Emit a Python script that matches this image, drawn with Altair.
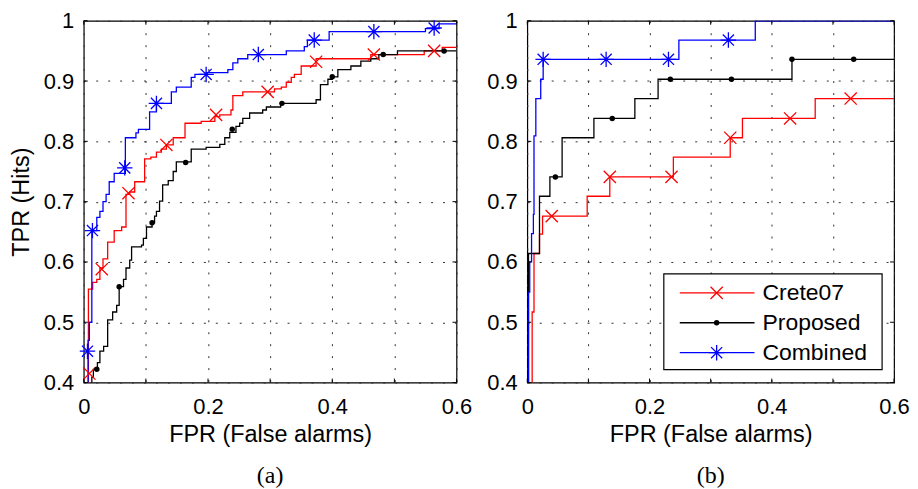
import altair as alt
import pandas as pd

# ---------------- data ----------------
XT = [0.0, 0.1, 0.2, 0.3, 0.4, 0.5, 0.6]
YT = [0.4, 0.5, 0.6, 0.7, 0.8, 0.9, 1.0]
SERIES = ["Crete07", "Proposed", "Combined"]
COLORS = ["#ff0000", "#000000", "#0000ff"]
SUBTITLES = ["(a)", "(b)"]

# panel (a): step ROC corners (x where the curve rises, TPR after the rise)
a_crete_x = [0.0075, 0.0075, 0.0144, 0.021, 0.026, 0.031, 0.0385, 0.049, 0.061, 0.068,
             0.074, 0.082, 0.098, 0.108, 0.117, 0.125, 0.133, 0.144, 0.163, 0.189,
             0.211, 0.219, 0.237, 0.240, 0.256, 0.307, 0.318, 0.326, 0.334, 0.339,
             0.350, 0.374, 0.462, 0.548, 0.577, 0.600]
a_crete_y = [0.30, 0.555, 0.566, 0.571, 0.590, 0.605, 0.633, 0.652, 0.658, 0.712,
             0.716, 0.733, 0.771, 0.774, 0.782, 0.787, 0.794, 0.806, 0.830, 0.833,
             0.841, 0.844, 0.852, 0.876, 0.882, 0.887, 0.890, 0.898, 0.906, 0.911,
             0.925, 0.937, 0.944, 0.950, 0.956, 0.956]
a_prop_x = [0.013, 0.013, 0.0155, 0.022, 0.026, 0.032, 0.0385, 0.0465, 0.053, 0.057,
            0.064, 0.068, 0.074, 0.077, 0.093, 0.096, 0.101, 0.110, 0.114, 0.117,
            0.122, 0.127, 0.136, 0.144, 0.149, 0.173, 0.197, 0.219, 0.227, 0.235,
            0.245, 0.251, 0.256, 0.267, 0.288, 0.294, 0.317, 0.374, 0.381, 0.393,
            0.400, 0.409, 0.430, 0.446, 0.462, 0.475, 0.505, 0.600]
a_prop_y = [0.30, 0.409, 0.422, 0.433, 0.452, 0.460, 0.504, 0.517, 0.528, 0.559,
            0.571, 0.590, 0.603, 0.625, 0.628, 0.639, 0.658, 0.665, 0.676, 0.684,
            0.701, 0.728, 0.735, 0.750, 0.766, 0.787, 0.790, 0.795, 0.806, 0.815,
            0.825, 0.830, 0.838, 0.847, 0.852, 0.857, 0.863, 0.869, 0.894, 0.903,
            0.907, 0.919, 0.925, 0.933, 0.937, 0.944, 0.950, 0.950]
a_comb_x = [0.007, 0.007, 0.009, 0.013, 0.021, 0.026, 0.031, 0.036, 0.041, 0.049,
            0.067, 0.084, 0.088, 0.106, 0.117, 0.141, 0.149, 0.173, 0.179, 0.197,
            0.232, 0.240, 0.248, 0.264, 0.326, 0.355, 0.360, 0.395, 0.550, 0.572,
            0.600]
a_comb_y = [0.30, 0.47, 0.50, 0.652, 0.674, 0.684, 0.700, 0.712, 0.733, 0.747,
            0.806, 0.814, 0.820, 0.849, 0.863, 0.882, 0.890, 0.906, 0.911, 0.914,
            0.919, 0.930, 0.937, 0.944, 0.950, 0.957, 0.968, 0.982, 0.987, 0.995,
            0.995]
# panel (a) markers
a_crete_mx = [0.009, 0.029, 0.072, 0.133, 0.213, 0.296, 0.374, 0.467, 0.564]
a_crete_my = [0.415, 0.588, 0.714, 0.794, 0.844, 0.882, 0.932, 0.944, 0.950]
a_prop_mx = [0.021, 0.057, 0.110, 0.164, 0.239, 0.319, 0.400, 0.482, 0.580]
a_prop_my = [0.422, 0.559, 0.665, 0.765, 0.820, 0.863, 0.907, 0.944, 0.950]
a_comb_mx = [0.006, 0.014, 0.066, 0.117, 0.197, 0.281, 0.371, 0.467, 0.564]
a_comb_my = [0.452, 0.652, 0.756, 0.863, 0.911, 0.944, 0.968, 0.982, 0.988]

# panel (b)
b_crete_x = [0.008, 0.008, 0.011, 0.020, 0.025, 0.098, 0.135, 0.239, 0.332, 0.352, 0.471, 0.600]
b_crete_y = [0.30, 0.517, 0.614, 0.646, 0.676, 0.709, 0.741, 0.774, 0.806, 0.838, 0.871, 0.871]
b_prop_x = [0.002, 0.002, 0.020, 0.037, 0.057, 0.109, 0.176, 0.214, 0.433, 0.600]
b_prop_y = [0.30, 0.614, 0.709, 0.741, 0.806, 0.838, 0.871, 0.903, 0.936, 0.936]
b_comb_x = [0.002, 0.002, 0.004, 0.007, 0.010, 0.011, 0.014, 0.022, 0.026, 0.248, 0.373, 0.600]
b_comb_y = [0.30, 0.55, 0.60, 0.647, 0.679, 0.809, 0.871, 0.903, 0.936, 0.968, 1.0, 1.0]
b_crete_mx = [0.040, 0.135, 0.236, 0.332, 0.430, 0.529]
b_crete_my = [0.676, 0.741, 0.741, 0.806, 0.838, 0.871]
b_prop_mx = [0.046, 0.139, 0.234, 0.334, 0.433, 0.534]
b_prop_my = [0.741, 0.838, 0.903, 0.903, 0.936, 0.936]
b_comb_mx = [0.026, 0.129, 0.231, 0.329]
b_comb_my = [0.936, 0.936, 0.936, 0.968]

# ---------------- styling ----------------
W_A, W_B, H = 374, 368, 363
FONT = "Liberation Sans"
X_SHAPE = "M-1,-1L1,1M-1,1L1,-1"
STAR_SHAPE = "M-1,0L1,0M0,-1L0,1M-0.72,-0.72L0.72,0.72M-0.72,0.72L0.72,-0.72"
LW = 1.3

XS = alt.Scale(domain=[0, 0.6], nice=False, zero=False)
YS = alt.Scale(domain=[0.4, 1.0], nice=False, zero=False)


def x_axis():
    return alt.Axis(values=XT, format=".1~f",
                    labelExpr="round(datum.value*10) % 2 == 0 ? datum.label : ''",
                    title="FPR (False alarms)", labelPadding=14, titlePadding=5,
                    labelFlush=False, labelOverlap=False)


def y_axis(title):
    return alt.Axis(values=YT, format=".1~f", title=title, labelPadding=10,
                    titlePadding=10, labelFlush=False, labelOverlap=False)


def panel(curves, markers, sub, width, ytitle, legend):
    def X(field):
        return alt.X(field, scale=XS, axis=x_axis())

    def Y(field):
        return alt.Y(field, scale=YS, axis=y_axis(ytitle))

    frames = []
    for (xs, ys), name in zip(curves, SERIES):
        frames.append(pd.DataFrame({"x": xs, "y": ys, "s": name, "i": range(len(xs))}))
    lines_df = pd.concat(frames, ignore_index=True)

    lines = alt.Chart(lines_df).mark_line(
        interpolate="step-after", clip=True, strokeWidth=LW
    ).encode(
        x=X("x:Q"),
        y=Y("y:Q"),
        color=alt.Color("s:N", scale=alt.Scale(domain=SERIES, range=COLORS), legend=None),
        detail="s:N",
        order="i:Q",
    )

    layers = [lines]
    (cmx, cmy), (pmx, pmy), (bmx, bmy) = markers
    layers.append(alt.Chart(pd.DataFrame({"x": cmx, "y": cmy})).mark_point(
        shape=X_SHAPE, filled=False, size=150, strokeWidth=LW, color=COLORS[0], opacity=1
    ).encode(x=X("x:Q"), y=Y("y:Q")))
    layers.append(alt.Chart(pd.DataFrame({"x": pmx, "y": pmy})).mark_circle(
        size=30, color=COLORS[1], opacity=1
    ).encode(x=X("x:Q"), y=Y("y:Q")))
    layers.append(alt.Chart(pd.DataFrame({"x": bmx, "y": bmy})).mark_point(
        shape=STAR_SHAPE, filled=False, size=240, strokeWidth=LW, color=COLORS[2], opacity=1
    ).encode(x=X("x:Q"), y=Y("y:Q")))

    # inward tick marks on all four sides
    xt_df = pd.DataFrame({"v": XT})
    yt_df = pd.DataFrame({"v": YT})
    tk = dict(color="black", strokeWidth=1)
    layers.append(alt.Chart(xt_df).mark_rule(**tk).encode(
        x=X("v:Q"), y=alt.value(H), y2=alt.value(H - 4)))
    layers.append(alt.Chart(xt_df).mark_rule(**tk).encode(
        x=X("v:Q"), y=alt.value(0), y2=alt.value(4)))
    layers.append(alt.Chart(yt_df).mark_rule(**tk).encode(
        y=Y("v:Q"), x=alt.value(0), x2=alt.value(4)))
    layers.append(alt.Chart(yt_df).mark_rule(**tk).encode(
        y=Y("v:Q"), x=alt.value(width), x2=alt.value(width - 4)))

    if legend:
        one = pd.DataFrame({"k": [0]})
        layers.append(alt.Chart(one).mark_rect(
            fill="white", stroke="black", strokeWidth=1.2
        ).encode(x=alt.value(137), x2=alt.value(356), y=alt.value(254), y2=alt.value(350)))
        rows_y = [273, 303, 333]
        for i, name in enumerate(SERIES):
            ly = rows_y[i]
            layers.append(alt.Chart(one).mark_rule(color=COLORS[i], strokeWidth=LW).encode(
                x=alt.value(153), x2=alt.value(228), y=alt.value(ly)))
            if i == 0:
                m = alt.Chart(one).mark_point(shape=X_SHAPE, filled=False, size=150,
                                              strokeWidth=LW, color=COLORS[0], opacity=1)
            elif i == 1:
                m = alt.Chart(one).mark_circle(size=30, color=COLORS[1], opacity=1)
            else:
                m = alt.Chart(one).mark_point(shape=STAR_SHAPE, filled=False, size=240,
                                              strokeWidth=LW, color=COLORS[2], opacity=1)
            layers.append(m.encode(x=alt.value(190), y=alt.value(ly)))
            layers.append(alt.Chart(pd.DataFrame({"t": [name]})).mark_text(
                align="left", baseline="middle", font=FONT, fontSize=23, color="black"
            ).encode(x=alt.value(236), y=alt.value(ly), text="t:N"))

    return alt.layer(*layers).properties(
        width=width, height=H,
        title=alt.TitleParams(sub, orient="bottom", font="Liberation Serif", fontSize=24,
                              fontWeight="normal", color="black", offset=18),
    )


left = panel([(a_crete_x, a_crete_y), (a_prop_x, a_prop_y), (a_comb_x, a_comb_y)],
             [(a_crete_mx, a_crete_my), (a_prop_mx, a_prop_my), (a_comb_mx, a_comb_my)],
             SUBTITLES[0], W_A, "TPR (Hits)", False)
right = panel([(b_crete_x, b_crete_y), (b_prop_x, b_prop_y), (b_comb_x, b_comb_y)],
              [(b_crete_mx, b_crete_my), (b_prop_mx, b_prop_my), (b_comb_mx, b_comb_my)],
              SUBTITLES[1], W_B, "", True)

chart = alt.hconcat(left, right, spacing=71, bounds="flush").properties(
    padding={"left": 0, "top": 0, "right": 0, "bottom": 0}
).configure_view(
    stroke="black", strokeWidth=1.2
).configure_axis(
    labelFont=FONT, labelFontSize=22, labelColor="black",
    titleFont=FONT, titleFontSize=23.5, titleFontWeight="normal", titleColor="black",
    ticks=False, domain=False,
    grid=True, gridColor="#303030", gridDash=[2, 10], gridWidth=1, gridOpacity=1,
)

chart.save("out.html", embed_options={"renderer": "svg", "actions": False})
